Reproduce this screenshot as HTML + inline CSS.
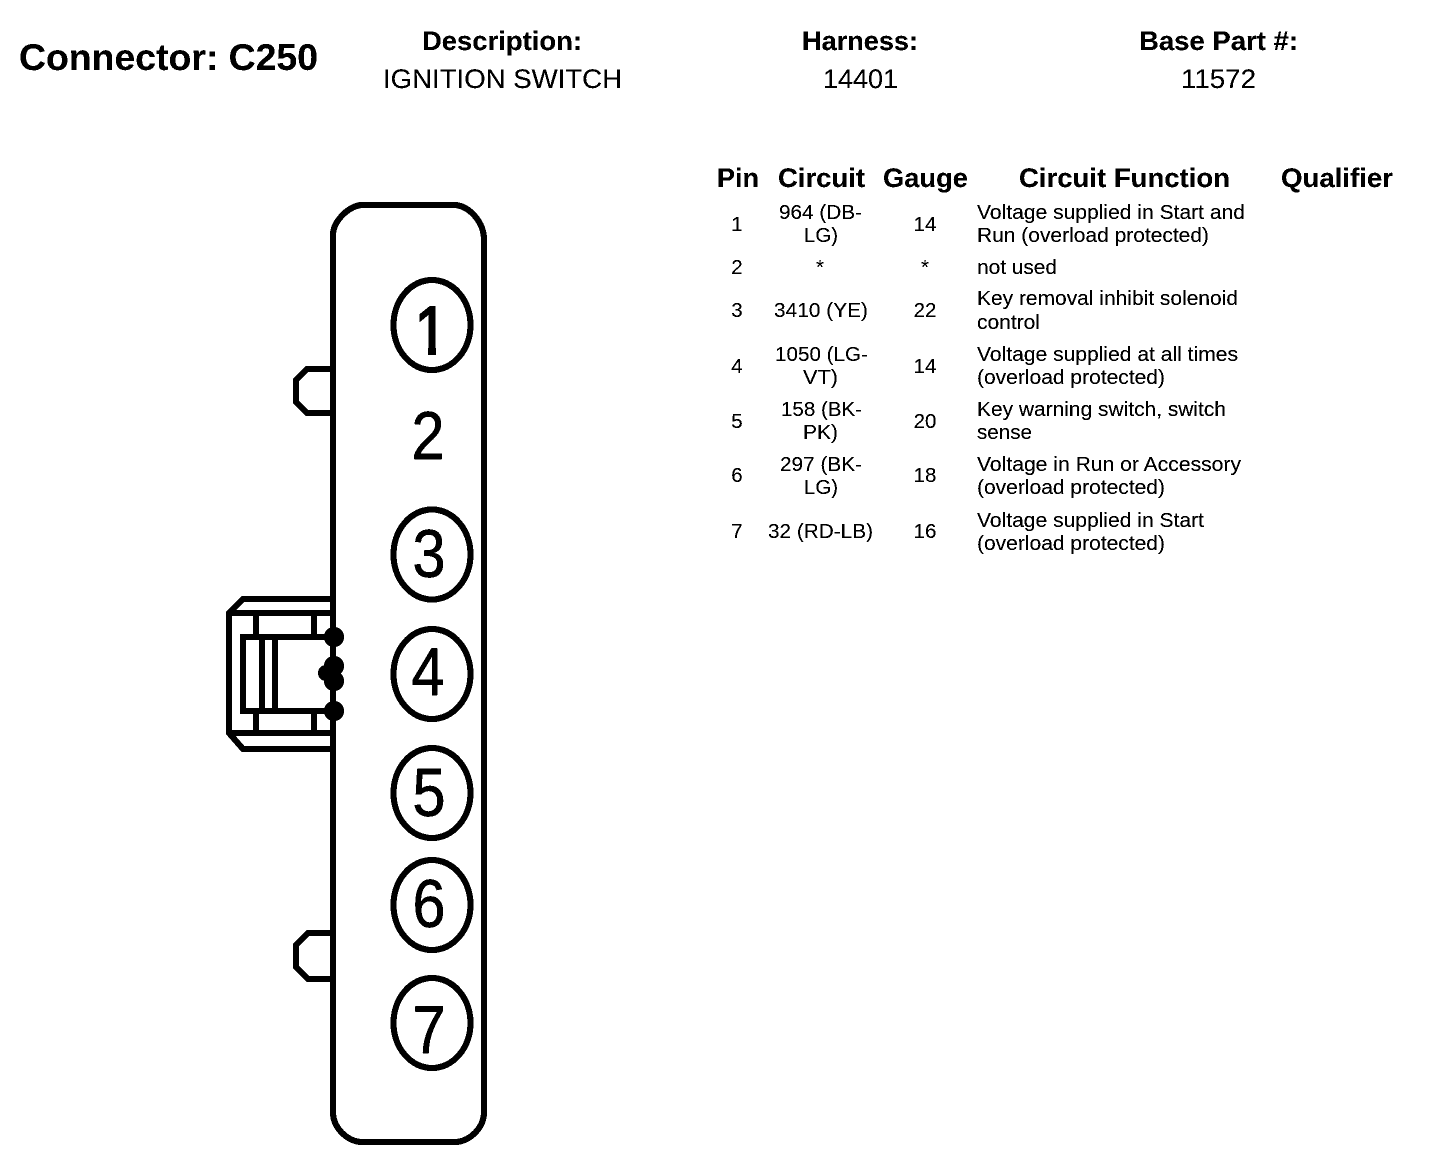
<!DOCTYPE html>
<html><head><meta charset="utf-8"><style>
html,body{margin:0;padding:0;background:#fff;width:1440px;height:1172px;overflow:hidden}
svg{display:block}
text{font-family:"Liberation Sans",Arial,sans-serif;fill:#000}
.b{font-weight:bold}
.h{font-size:27px;font-weight:bold}
.v{font-size:27px}
.t{font-size:27px;font-weight:bold}
.r{font-size:20.5px}
.n{font-size:68px;stroke:#000;stroke-width:.6}
.m{text-anchor:middle}
.s{fill:none;stroke:#000;stroke-width:6}
</style></head><body>
<svg width="1440" height="1172" viewBox="0 0 1440 1172" xmlns="http://www.w3.org/2000/svg">
<defs><filter id="bw" x="0" y="0" width="100%" height="100%" color-interpolation-filters="sRGB"><feComponentTransfer><feFuncR type="discrete" tableValues="0 0 1"/><feFuncG type="discrete" tableValues="0 0 1"/><feFuncB type="discrete" tableValues="0 0 1"/></feComponentTransfer></filter></defs>
<g filter="url(#bw)">
<rect width="1440" height="1172" fill="#fff"/>
<text x="19" y="70" class="b" font-size="37" textLength="299" lengthAdjust="spacingAndGlyphs">Connector: C250</text>
<text x="422" y="50" class="h" textLength="160" lengthAdjust="spacingAndGlyphs">Description:</text>
<text x="383" y="88" class="v" textLength="239" lengthAdjust="spacingAndGlyphs">IGNITION SWITCH</text>
<text x="802" y="50" class="h" textLength="116" lengthAdjust="spacingAndGlyphs">Harness:</text>
<text x="823" y="88" class="v" textLength="75" lengthAdjust="spacingAndGlyphs">14401</text>
<text x="1139" y="50" class="h" textLength="159" lengthAdjust="spacingAndGlyphs">Base Part #:</text>
<text x="1181" y="88" class="v" textLength="75" lengthAdjust="spacingAndGlyphs">11572</text>

<text x="717" y="187" class="t" textLength="42" lengthAdjust="spacingAndGlyphs">Pin</text>
<text x="778" y="187" class="t" textLength="87" lengthAdjust="spacingAndGlyphs">Circuit</text>
<text x="883" y="187" class="t" textLength="85" lengthAdjust="spacingAndGlyphs">Gauge</text>
<text x="1019" y="187" class="t" textLength="211" lengthAdjust="spacingAndGlyphs">Circuit Function</text>
<text x="1281" y="187" class="t" textLength="112" lengthAdjust="spacingAndGlyphs">Qualifier</text>

<text class="r m" x="737" y="231">1</text>
<text class="r" x="779" y="219" textLength="83" lengthAdjust="spacingAndGlyphs">964 (DB-</text>
<text class="r" x="804" y="242" textLength="34" lengthAdjust="spacingAndGlyphs">LG)</text>
<text class="r m" x="925" y="231">14</text>
<text class="r" x="977" y="219" textLength="268" lengthAdjust="spacingAndGlyphs">Voltage supplied in Start and</text>
<text class="r" x="977" y="242" textLength="232" lengthAdjust="spacingAndGlyphs">Run (overload protected)</text>

<text class="r m" x="737" y="274">2</text>
<text class="r m" x="820" y="274">*</text>
<text class="r m" x="925" y="274">*</text>
<text class="r" x="977" y="274" textLength="80" lengthAdjust="spacingAndGlyphs">not used</text>

<text class="r m" x="737" y="317">3</text>
<text class="r" x="774" y="317" textLength="94" lengthAdjust="spacingAndGlyphs">3410 (YE)</text>
<text class="r m" x="925" y="317">22</text>
<text class="r" x="977" y="305" textLength="261" lengthAdjust="spacingAndGlyphs">Key removal inhibit solenoid</text>
<text class="r" x="977" y="329" textLength="63" lengthAdjust="spacingAndGlyphs">control</text>

<text class="r m" x="737" y="373">4</text>
<text class="r" x="775" y="361" textLength="93" lengthAdjust="spacingAndGlyphs">1050 (LG-</text>
<text class="r" x="803" y="384" textLength="35" lengthAdjust="spacingAndGlyphs">VT)</text>
<text class="r m" x="925" y="373">14</text>
<text class="r" x="977" y="361" textLength="261" lengthAdjust="spacingAndGlyphs">Voltage supplied at all times</text>
<text class="r" x="977" y="384" textLength="188" lengthAdjust="spacingAndGlyphs">(overload protected)</text>

<text class="r m" x="737" y="428">5</text>
<text class="r" x="781" y="416" textLength="81" lengthAdjust="spacingAndGlyphs">158 (BK-</text>
<text class="r" x="803" y="439" textLength="35" lengthAdjust="spacingAndGlyphs">PK)</text>
<text class="r m" x="925" y="428">20</text>
<text class="r" x="977" y="416" textLength="249" lengthAdjust="spacingAndGlyphs">Key warning switch, switch</text>
<text class="r" x="977" y="439" textLength="55" lengthAdjust="spacingAndGlyphs">sense</text>

<text class="r m" x="737" y="482">6</text>
<text class="r" x="780" y="471" textLength="82" lengthAdjust="spacingAndGlyphs">297 (BK-</text>
<text class="r" x="804" y="494" textLength="34" lengthAdjust="spacingAndGlyphs">LG)</text>
<text class="r m" x="925" y="482">18</text>
<text class="r" x="977" y="471" textLength="264" lengthAdjust="spacingAndGlyphs">Voltage in Run or Accessory</text>
<text class="r" x="977" y="494" textLength="188" lengthAdjust="spacingAndGlyphs">(overload protected)</text>

<text class="r m" x="737" y="538">7</text>
<text class="r" x="768" y="538" textLength="105" lengthAdjust="spacingAndGlyphs">32 (RD-LB)</text>
<text class="r m" x="925" y="538">16</text>
<text class="r" x="977" y="527" textLength="227" lengthAdjust="spacingAndGlyphs">Voltage supplied in Start</text>
<text class="r" x="977" y="550" textLength="188" lengthAdjust="spacingAndGlyphs">(overload protected)</text>

<!-- connector body -->
<path class="s" d="M361 205H456C470 207 484 222 484 240V1112C484 1128 470 1141 456 1142H361C347 1141 333 1128 333 1112V235C333 222 347 207 361 205Z"/>
<!-- tabs -->
<path class="s" d="M333 369H307L296 380V402L307 413H333"/>
<path class="s" d="M333 933H308L296 945V967L308 979H333"/>
<!-- latch -->
<path class="s" d="M333 599H243L229 613V733L243 749H333"/>
<path class="s" d="M229 613H333M229 733H333"/>
<path class="s" d="M333 637H243V711H333"/>
<path class="s" d="M256 613V637M256 711V733M314 613V637M314 711V733M262 637V711M275 637V711"/>
<circle cx="334" cy="637" r="10"/><circle cx="334" cy="666" r="10"/><circle cx="334" cy="681" r="10"/><circle cx="334" cy="711" r="10"/><circle cx="326" cy="673" r="8"/>
<!-- pin circles -->
<ellipse class="s" cx="432" cy="325" rx="38.5" ry="45"/>
<ellipse class="s" cx="432" cy="554.5" rx="38.5" ry="45"/>
<ellipse class="s" cx="432" cy="674" rx="38.5" ry="45"/>
<ellipse class="s" cx="432" cy="793" rx="38.5" ry="45"/>
<ellipse class="s" cx="432" cy="905" rx="38.5" ry="45"/>
<ellipse class="s" cx="432" cy="1023" rx="38.5" ry="45"/>
<text class="n m" x="431" y="354" textLength="33" lengthAdjust="spacingAndGlyphs" style="stroke-width:2">1</text>
<rect x="414" y="345" width="14" height="13" fill="#fff"/><rect x="436" y="345" width="15" height="13" fill="#fff"/>
<text class="n m" x="428" y="459" textLength="33" lengthAdjust="spacingAndGlyphs">2</text>
<text class="n m" x="429" y="577" textLength="33" lengthAdjust="spacingAndGlyphs">3</text>
<text class="n m" x="428" y="695" textLength="33" lengthAdjust="spacingAndGlyphs">4</text>
<text class="n m" x="429" y="816" textLength="33" lengthAdjust="spacingAndGlyphs">5</text>
<text class="n m" x="429" y="927" textLength="33" lengthAdjust="spacingAndGlyphs">6</text>
<text class="n m" x="429" y="1053" textLength="33" lengthAdjust="spacingAndGlyphs">7</text>
</g>
</svg>
</body></html>
